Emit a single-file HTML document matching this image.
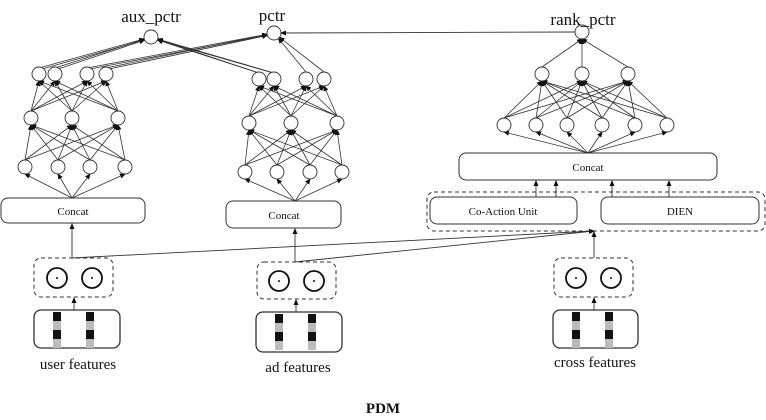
<!DOCTYPE html>
<html><head><meta charset="utf-8"><style>
html,body{margin:0;padding:0;background:#fff;}
svg{display:block;font-family:"Liberation Serif",serif;}
</style></head><body>
<svg id="s" width="766" height="420" viewBox="0 0 766 420" xmlns="http://www.w3.org/2000/svg">
<defs><marker id="a" markerWidth="6" markerHeight="6" refX="5" refY="3" orient="auto" markerUnits="userSpaceOnUse"><path d="M0,0.5 L6,3 L0,5.5z" fill="#111"/></marker></defs>
<g id="edges" stroke="#333" stroke-width="0.8" fill="none"></g>
<g id="nodes" stroke="#333" stroke-width="0.9" fill="#fff"></g>
<g fill="#fff" stroke="#333" stroke-width="1">
<rect x="1" y="198" width="144" height="25" rx="7"/>
<rect x="226" y="201" width="115" height="27" rx="7"/>
<rect x="459" y="153" width="258" height="27" rx="7"/>
<rect x="427" y="192" width="338" height="39" rx="7" stroke-dasharray="4,3"/>
<rect x="430" y="197" width="147" height="27" rx="7"/>
<rect x="601" y="197" width="158" height="27" rx="7"/>
<rect x="34" y="258" width="79" height="39" rx="7" stroke-dasharray="4,3"/>
<rect x="257" y="262" width="79" height="37" rx="7" stroke-dasharray="4,3"/>
<rect x="554" y="258" width="79" height="39" rx="7" stroke-dasharray="4,3"/>
<rect x="34" y="310" width="86" height="38" rx="7" stroke-width="1.3"/>
<rect x="256" y="312" width="86" height="40" rx="7" stroke-width="1.3"/>
<rect x="553" y="310" width="85" height="38" rx="7" stroke-width="1.3"/>
</g>
<g id="bars"></g>
<g fill="#fff" stroke="#111" stroke-width="1.8">
<circle cx="57" cy="278" r="10"/><circle cx="92" cy="278" r="10"/>
<circle cx="279" cy="281" r="10"/><circle cx="314" cy="281" r="10"/>
<circle cx="576" cy="278" r="10"/><circle cx="611" cy="278" r="10"/>
</g>
<g fill="#111">
<circle cx="57" cy="278" r="1"/><circle cx="92" cy="278" r="1"/>
<circle cx="279" cy="281" r="1"/><circle cx="314" cy="281" r="1"/>
<circle cx="576" cy="278" r="1"/><circle cx="611" cy="278" r="1"/>
</g>
<g stroke="#333" stroke-width="0.9" marker-end="url(#a)" fill="none">
<line x1="72" y1="258" x2="72" y2="224"/>
<line x1="295" y1="262" x2="295" y2="229"/>
<line x1="594" y1="258" x2="594" y2="232"/>
<line x1="72" y1="258" x2="594" y2="231"/>
<line x1="295" y1="262" x2="594" y2="231"/>
<line x1="74" y1="310" x2="74" y2="298"/>
<line x1="296" y1="312" x2="296" y2="300"/>
<line x1="594" y1="310" x2="594" y2="298"/>
<line x1="536" y1="197" x2="536" y2="181"/>
<line x1="556" y1="197" x2="556" y2="181"/>
<line x1="612" y1="197" x2="612" y2="181"/>
<line x1="669" y1="197" x2="669" y2="181"/>
<line x1="575" y1="32" x2="281" y2="33"/>
</g>
<g font-size="11" text-anchor="middle" fill="#111">
<text x="73" y="215">Concat</text>
<text x="284" y="219">Concat</text>
<text x="588" y="171">Concat</text>
<text x="503" y="215">Co-Action Unit</text>
<text x="680" y="215">DIEN</text>
</g>
<g font-size="15" text-anchor="middle" fill="#111">
<text x="78" y="369">user features</text>
<text x="298" y="372">ad features</text>
<text x="595" y="367">cross features</text>
</g>
<g font-size="17" text-anchor="middle" fill="#111">
<text x="151" y="22">aux_pctr</text>
<text x="272" y="21">pctr</text>
<text x="583" y="25">rank_pctr</text>
</g>
<text x="383" y="413" font-size="15" font-weight="bold" text-anchor="middle" fill="#111">PDM</text>
</svg>
<script>
var NS="http://www.w3.org/2000/svg",E=document.getElementById("edges"),N=document.getElementById("nodes"),B=document.getElementById("bars");
function ln(x1,y1,x2,y2,arr){var l=document.createElementNS(NS,"line");l.setAttribute("x1",x1);l.setAttribute("y1",y1);l.setAttribute("x2",x2);l.setAttribute("y2",y2);if(arr)l.setAttribute("marker-end","url(#a)");E.appendChild(l);}
function to(x1,y1,x2,y2,r){var dx=x2-x1,dy=y2-y1,d=Math.hypot(dx,dy);ln(x1,y1,x2-dx/d*r,y2-dy/d*r,true);}
function nd(x,y,r){var c=document.createElementNS(NS,"circle");c.setAttribute("cx",x);c.setAttribute("cy",y);c.setAttribute("r",r||7);N.appendChild(c);}
var R=7;
function tower(cx,cy,b,by,m,my,t,ty){
 b.forEach(function(x){to(cx,cy,x,by+R,0);nd(x,by);});
 b.forEach(function(x){m.forEach(function(y){to(x,by-R,y,my+R,0);});});
 m.forEach(function(x){nd(x,my);t.forEach(function(y){to(x,my-R,y,ty+R,0);});});
 t.forEach(function(x){nd(x,ty);});
}
tower(72,198,[25,58,90,125],167,[31,72,118],118,[39,55,87,106],74);
tower(295,201,[245,277,310,342],172,[249,291,337],123,[259,274,306,324],79);
tower(588,153,[504,536,567,602,635,667],125,[],0,[],0);
[504,536,567,602,635,667].forEach(function(x){[542,582,628].forEach(function(y){to(x,125-R,y,74+R,0);});});
[542,582,628].forEach(function(x){nd(x,74);to(x,74-R,582,32+R,0);});
// double lines to outputs
function dbl(x1,y1,x2,y2){to(x1,y1-R+1,x2,y2,R);to(x1+3,y1-R+2,x2,y2+1,R);}
dbl(39,74,151,37);dbl(55,74,151,37);
dbl(87,74,274,33);dbl(106,74,274,33);
dbl(259,79,151,37);dbl(274,79,151,37);
to(306,79-R,274,33,R);to(324,79-R,274,33,R);
nd(151,37);nd(274,33);nd(582,32);
function bars(x0,y0){[x0,x0+33].forEach(function(x){[[0,"#111"],[9,"#bbb"],[18,"#111"],[27,"#bbb"]].forEach(function(s){var r=document.createElementNS(NS,"rect");r.setAttribute("x",x);r.setAttribute("y",y0+s[0]);r.setAttribute("width",8);r.setAttribute("height",9);r.setAttribute("fill",s[1]);B.appendChild(r);});});}
bars(53,312);bars(275,314);bars(572,312);
</script>
</body></html>
